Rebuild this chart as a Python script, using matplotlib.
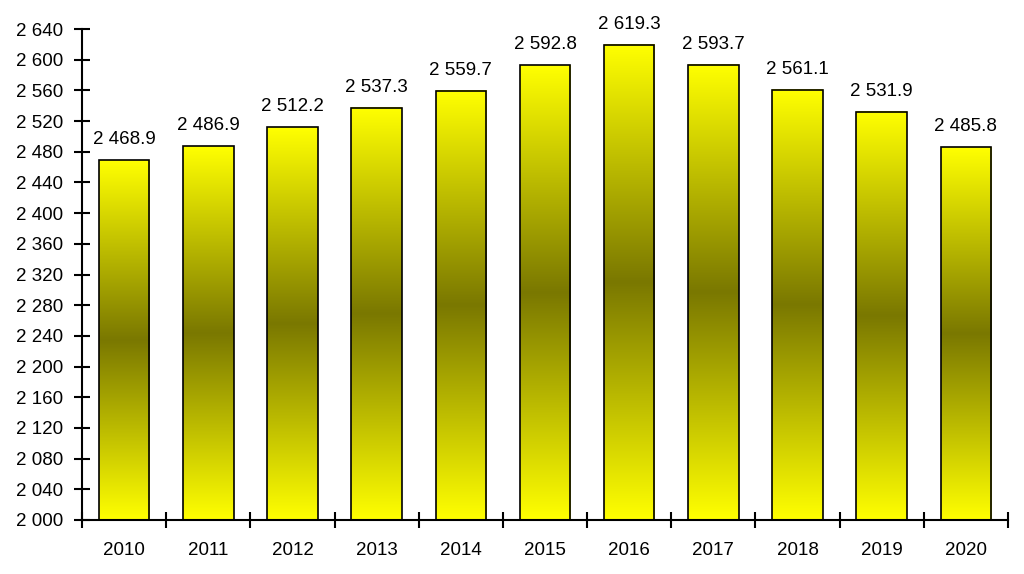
import matplotlib
matplotlib.use("Agg")
import matplotlib.pyplot as plt
import numpy as np
from matplotlib.colors import LinearSegmentedColormap

years = ["2010", "2011", "2012", "2013", "2014", "2015", "2016", "2017", "2018", "2019", "2020"]
values = [2468.9, 2486.9, 2512.2, 2537.3, 2559.7, 2592.8, 2619.3, 2593.7, 2561.1, 2531.9, 2485.8]
y_ticks = list(range(2000, 2641, 40))

plt.rcParams['font.family'] = ['Liberation Sans', 'DejaVu Sans']
SP = " "
FS = 13.5

def fmt_int(v):
    return f"{v // 1000}{SP}{v % 1000:03d}"

def fmt_val(v):
    whole = int(v)
    dec = round((v - whole) * 10)
    return f"{whole // 1000}{SP}{whole % 1000:03d}.{dec}"

fig = plt.figure(figsize=(10.24, 5.74), dpi=100)
ax = fig.add_axes([82 / 1024, 1 - 520 / 574, (1008 - 82) / 1024, (520 - 29) / 574])

cmap = LinearSegmentedColormap.from_list("yg", ["#FFFF00", "#7A7800", "#FFFF00"])
grad = np.linspace(0, 1, 256).reshape(-1, 1)
x = np.arange(len(years))
w = 0.6
ymin, ymax = 2000, 2640
for xi, v in zip(x, values):
    ax.imshow(grad, cmap=cmap, aspect="auto", extent=(xi - w / 2, xi + w / 2, ymin, v),
              origin="upper", zorder=2, interpolation="bilinear")
ax.bar(x, [v - ymin for v in values], bottom=ymin, width=w, facecolor="none",
       edgecolor="black", linewidth=1.2, zorder=3)
for xi, v in zip(x, values):
    ax.annotate(fmt_val(v), (xi, v), xytext=(0, 11.5), textcoords="offset points",
                ha="center", va="baseline", fontsize=FS, color="black")

ax.set_xlim(-0.5, len(years) - 0.5)
ax.set_ylim(ymin, ymax)
for s in ["top", "right"]:
    ax.spines[s].set_visible(False)
for s in ["left", "bottom"]:
    ax.spines[s].set_linewidth(1.5)

ax.set_yticks(y_ticks)
ax.set_yticklabels([fmt_int(t) for t in y_ticks])
ax.tick_params(axis="y", direction="inout", length=11, width=1.5, pad=8, labelsize=FS)

ax.set_xticks(np.arange(-0.5, len(years), 1.0))
ax.set_xticklabels([])
ax.tick_params(axis="x", which="major", direction="inout", length=11, width=1.5)
ax.set_xticks(x, minor=True)
ax.set_xticklabels(years, minor=True)
ax.tick_params(axis="x", which="minor", length=0, pad=16, labelsize=FS)

fig.savefig("out.png", dpi=100)
